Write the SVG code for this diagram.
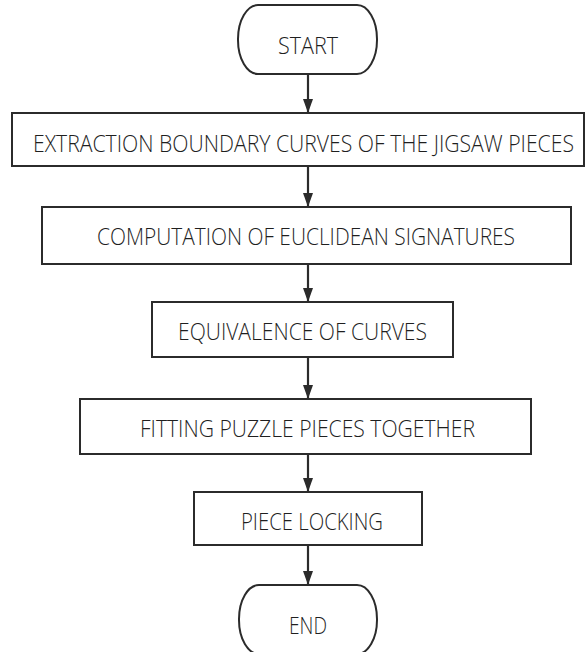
<svg xmlns="http://www.w3.org/2000/svg" width="586" height="652" viewBox="0 0 586 652">
  <style>
    .shape { fill: #ffffff; stroke: #2b2b2b; stroke-width: 2; }
    .label { font-family: "Open Sans", "Noto Sans", "DejaVu Sans", sans-serif; font-weight: 300; font-size: 23px; fill: #1f1f1f; text-anchor: middle; }
    .link { stroke: #2b2b2b; stroke-width: 2.2; fill: none; marker-end: url(#head); }
  </style>
  <defs>
    <marker id="head" viewBox="0 0 14 10" refX="14" refY="5" markerUnits="userSpaceOnUse" markerWidth="14" markerHeight="10" orient="auto">
      <path d="M0,0 L14,5 L0,10 Z" fill="#2b2b2b"/>
    </marker>
  </defs>
  <rect width="586" height="652" fill="#ffffff"/>

  <g id="connectors">
    <line class="link" x1="308" y1="74" x2="308" y2="113"/>
    <line class="link" x1="308" y1="166" x2="308" y2="207"/>
    <line class="link" x1="308" y1="264" x2="308" y2="302"/>
    <line class="link" x1="308" y1="357" x2="308" y2="399"/>
    <line class="link" x1="308" y1="454" x2="308" y2="492"/>
    <line class="link" x1="308" y1="545" x2="308" y2="585"/>
  </g>

  <g id="start">
    <rect class="shape" x="238" y="5" width="139" height="69" rx="20" ry="34"/>
    <text class="label" x="308" y="54" textLength="60" lengthAdjust="spacingAndGlyphs">START</text>
  </g>

  <g id="extraction">
    <rect class="shape" x="12" y="113" width="572" height="53"/>
    <text class="label" x="303.5" y="151.5" textLength="541" lengthAdjust="spacingAndGlyphs">EXTRACTION BOUNDARY CURVES OF THE JIGSAW PIECES</text>
  </g>

  <g id="signatures">
    <rect class="shape" x="42" y="207" width="529" height="57"/>
    <text class="label" x="306" y="245" textLength="418" lengthAdjust="spacingAndGlyphs">COMPUTATION OF EUCLIDEAN SIGNATURES</text>
  </g>

  <g id="equivalence">
    <rect class="shape" x="152" y="302" width="301" height="55"/>
    <text class="label" x="302.5" y="340" textLength="249" lengthAdjust="spacingAndGlyphs">EQUIVALENCE OF CURVES</text>
  </g>

  <g id="fitting">
    <rect class="shape" x="80" y="399" width="451" height="55"/>
    <text class="label" x="307.5" y="436.5" textLength="335" lengthAdjust="spacingAndGlyphs">FITTING PUZZLE PIECES TOGETHER</text>
  </g>

  <g id="locking">
    <rect class="shape" x="194" y="492" width="228" height="53"/>
    <text class="label" x="312" y="529.5" textLength="142" lengthAdjust="spacingAndGlyphs">PIECE LOCKING</text>
  </g>

  <g id="end">
    <rect class="shape" x="239" y="585" width="138" height="69" rx="20" ry="34"/>
    <text class="label" x="308" y="634" textLength="38" lengthAdjust="spacingAndGlyphs">END</text>
  </g>
</svg>
